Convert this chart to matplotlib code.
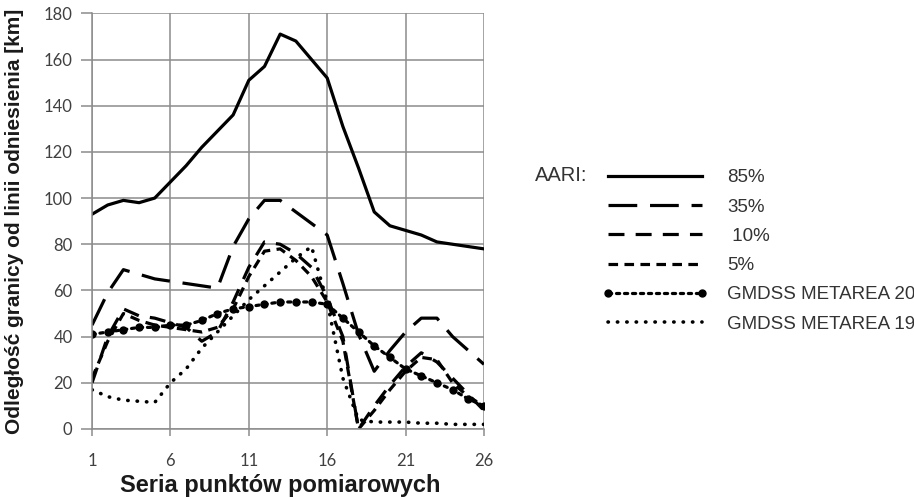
import numpy as np
import matplotlib
matplotlib.use('Agg')
import matplotlib.pyplot as plt

# Data
seria = list(range(1, 27))
aari_85 = [93, 97, 99, 98, 100, 107, 114, 122, 129, 136, 151, 157, 171, 168, 160,
           152, 131, 113, 94, 88, 86, 84, 81, 80, 79, 78]
aari_35 = [45, 59, 69, 67, 65, 64, 63, 62, 61, 79, 91, 99, 99, 94, 89,
           84, 63, 41, 25, 34, 42, 48, 48, 40, 34, 28]
aari_10 = [20, 40, 52, 49, 48, 46, 44, 38, 42, 55, 70, 81, 80, 76, 70,
           57, 40, 0, 10, 19, 27, 33, 29, 22, 15, 8]
aari_5 = [22, 38, 50, 47, 45, 44, 43, 42, 44, 52, 66, 77, 78, 73, 66,
          55, 38, 0, 8, 17, 25, 31, 30, 20, 14, 10]
gmdss_20 = [41, 42, 43, 44, 44, 45, 45, 47, 50, 52, 53, 54, 55, 55, 55,
            54, 48, 42, 36, 31, 26, 23, 20, 17, 13, 10]
gmdss_19 = [17, 14, 12.5, 12, 11.5, 20, 26, 35, 42, 49, 56, 62, 68, 74, 79,
            55, 22, 4, 3, 3, 3, 2.5, 2.5, 2, 2, 2]

labels = ['85%', '35%', ' 10%', '5%', 'GMDSS METAREA 20', 'GMDSS METAREA 19']
x_ticks = [1, 6, 11, 16, 21, 26]
y_ticks = list(range(0, 181, 20))

fig = plt.figure(figsize=(9.14, 4.99), dpi=100)
ax = fig.add_axes([0.1007, 0.1403, 0.4288, 0.833])

lw = 2.3
l1, = ax.plot(seria, aari_85, color='black', lw=lw, solid_joinstyle='round')
l2, = ax.plot(seria, aari_35, color='black', lw=lw, linestyle=(0, (9, 4)))
l3, = ax.plot(seria, aari_10, color='black', lw=lw, linestyle=(0, (5, 3.5)))
l4, = ax.plot(seria, aari_5, color='black', lw=lw, linestyle=(0, (3, 2)))
l5, = ax.plot(seria, gmdss_20, color='black', lw=lw, linestyle=(0, (1, 1.5)),
              marker='o', markersize=5, dash_capstyle='round')
l6, = ax.plot(seria, gmdss_19, color='black', lw=2.6, linestyle=(0, (0.1, 2.5)),
              dash_capstyle='round')

ax.set_xlim(1, 26)
ax.set_ylim(0, 180)
ax.set_xticks(x_ticks)
ax.set_yticks(y_ticks)
ax.grid(True, color='#8c8c8c', lw=1.1)
for s in ['top', 'right']:
    ax.spines[s].set_visible(False)
for s in ['left', 'bottom']:
    ax.spines[s].set_color('#8c8c8c')
    ax.spines[s].set_linewidth(1.1)
ax.tick_params(axis='y', direction='out', length=8, width=1.1, color='#8c8c8c',
               labelsize=12, labelcolor='#404040', pad=6)
ax.tick_params(axis='x', direction='out', length=5, width=1.1, color='#8c8c8c',
               labelsize=12, labelcolor='#404040', pad=12)
for t in ax.get_xticklabels() + ax.get_yticklabels():
    t.set_family('Lato')

ax.set_ylabel('Odległość granicy od linii odniesienia [km]', family='Liberation Sans',
              fontsize=15, fontweight='bold', color='#1a1a1a', labelpad=14)
ax.set_xlabel('Seria punktów pomiarowych', family='Liberation Sans',
              fontsize=17, fontweight='bold', color='#1a1a1a')
ax.xaxis.set_label_coords(0.48, -0.108)

fig.legend([l1, l2, l3, l4, l5, l6], labels, loc='upper left',
           bbox_to_anchor=(0.641, 0.695), frameon=False, handlelength=5.6,
           handletextpad=1.05, labelspacing=0.65, numpoints=2,
           prop={'family': 'Liberation Sans', 'size': 13.5}, labelcolor='#333333')
fig.text(0.585, 0.649, 'AARI:', family='Liberation Sans', fontsize=14.5,
         color='#333333', va='center')

fig.savefig('out.png', dpi=100)
